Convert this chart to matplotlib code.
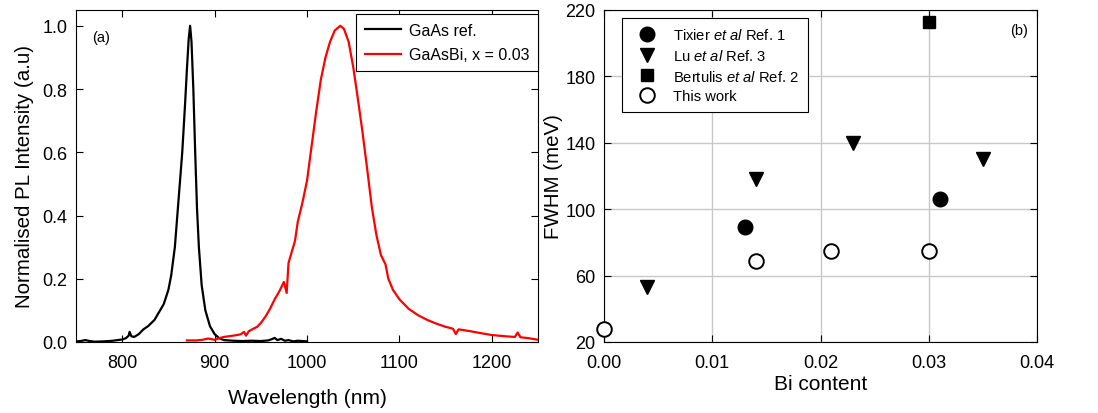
import matplotlib
matplotlib.use('Agg')
import matplotlib.pyplot as plt

plt.rcParams['font.family'] = ['Liberation Sans', 'DejaVu Sans']
plt.rcParams['mathtext.fontset'] = 'custom'
plt.rcParams['mathtext.rm'] = 'Liberation Sans'
plt.rcParams['mathtext.it'] = 'Liberation Sans:italic'

# Espectro de referencia GaAs
gaas_nm = [750, 755, 760, 765, 770, 780, 790, 800, 804, 807, 808, 810, 813,
           818, 823, 828, 835, 840, 845, 850, 853, 857, 861, 865, 868, 870,
           872, 873.5, 875, 877, 879, 881, 883, 886, 890, 895, 900, 905, 910,
           920, 930, 940, 950, 958, 962, 965, 968, 972, 976, 980, 985, 990,
           1000]
gaas_pl = [0.002, 0.003, 0.006, 0.003, 0.001, 0.002, 0.004, 0.008, 0.012, 0.02,
           0.032, 0.018, 0.016, 0.025, 0.04, 0.05, 0.07, 0.095, 0.12, 0.165,
           0.21, 0.3, 0.45, 0.6, 0.75, 0.86, 0.96, 1.0, 0.95, 0.8, 0.6, 0.42,
           0.3, 0.18, 0.1, 0.05, 0.025, 0.012, 0.006, 0.004, 0.003, 0.004,
           0.003, 0.005, 0.009, 0.013, 0.006, 0.01, 0.004, 0.006, 0.002,
           0.004, 0.002]

# Espectro GaAsBi, x = 0.03
bi_nm = [870, 880, 887, 893, 900, 905, 910, 915, 920, 928, 932, 934, 937, 942,
         946, 950, 955, 960, 965, 970, 975, 978, 980, 983, 987, 990, 995, 1000,
         1005, 1010, 1015, 1020, 1025, 1030, 1036, 1040, 1045, 1050, 1055,
         1060, 1065, 1070, 1075, 1080, 1085, 1088, 1093, 1100, 1110, 1120,
         1130, 1140, 1150, 1158, 1161, 1164, 1175, 1190, 1200, 1215, 1225,
         1228, 1231, 1240, 1250]
bi_pl = [0.005, 0.005, 0.007, 0.011, 0.007, 0.012, 0.016, 0.018, 0.02, 0.024,
         0.032, 0.02, 0.034, 0.042, 0.048, 0.06, 0.08, 0.105, 0.135, 0.16,
         0.19, 0.155, 0.25, 0.28, 0.32, 0.38, 0.44, 0.51, 0.62, 0.73, 0.83,
         0.9, 0.95, 0.985, 1.0, 0.99, 0.95, 0.87, 0.77, 0.665, 0.55, 0.43,
         0.34, 0.275, 0.245, 0.2, 0.165, 0.135, 0.105, 0.085, 0.07, 0.058,
         0.048, 0.042, 0.025, 0.04, 0.035, 0.027, 0.022, 0.018, 0.016, 0.03,
         0.015, 0.012, 0.007]

# Datos FWHM vs contenido de Bi
tixier_x = [0.013, 0.031]
tixier_y = [89, 106]
lu_x = [0.004, 0.014, 0.023, 0.035]
lu_y = [53, 118, 140, 130]
bertulis_x = [0.030]
bertulis_y = [213]
this_x = [0.000, 0.014, 0.021, 0.030]
this_y = [28, 69, 75, 75]

fig = plt.figure(figsize=(10.98, 4.14), dpi=100)
ax1 = fig.add_axes([0.0692, 0.1715, 0.4208, 0.802])
ax2 = fig.add_axes([0.5501, 0.1715, 0.3944, 0.802])

# Panel (a)
ax1.plot(gaas_nm, gaas_pl, color='black', lw=1.6, label='GaAs ref.')
ax1.plot(bi_nm, bi_pl, color='red', lw=1.6, label='GaAsBi, x = 0.03')
ax1.set_xlim(750, 1250)
ax1.set_ylim(0, 1.05)
ax1.set_xticks([800, 900, 1000, 1100, 1200])
ax1.set_yticks([0.0, 0.2, 0.4, 0.6, 0.8, 1.0])
ax1.set_xlabel('Wavelength (nm)', fontsize=15, labelpad=12)
ax1.set_ylabel('Normalised PL Intensity (a.u)', fontsize=14.8, labelpad=6)
ax1.text(0.035, 0.919, '(a)', transform=ax1.transAxes, fontsize=10.5,
         va='center')
leg1 = ax1.legend(loc='upper right', bbox_to_anchor=(1.0, 0.988),
                  borderaxespad=0, fontsize=11.5, fancybox=False,
                  edgecolor='black', framealpha=1, handlelength=2.25,
                  handletextpad=0.5, borderpad=0.55, labelspacing=0.6)
leg1.get_frame().set_linewidth(0.8)

# Panel (b)
ax2.plot(tixier_x, tixier_y, 'o', color='black', ms=10.5, ls='none',
         label='Tixier $\\mathit{et\\ al}$ Ref. 1')
ax2.plot(lu_x, lu_y, 'v', color='black', ms=10.5, ls='none',
         label='Lu $\\mathit{et\\ al}$ Ref. 3')
ax2.plot(bertulis_x, bertulis_y, 's', color='black', ms=9, ls='none',
         label='Bertulis $\\mathit{et\\ al}$ Ref. 2')
ax2.plot(this_x, this_y, 'o', mfc='white', mec='black', mew=1.4, ms=10.5,
         ls='none', label='This work', clip_on=False, zorder=5)
ax2.set_xlim(0, 0.04)
ax2.set_ylim(20, 220)
ax2.set_xticks([0.00, 0.01, 0.02, 0.03, 0.04])
ax2.set_xticklabels(['0.00', '0.01', '0.02', '0.03', '0.04'])
ax2.set_yticks([20, 60, 100, 140, 180, 220])
ax2.grid(True, color='#c8c8c8', lw=1)
ax2.set_axisbelow(True)
ax2.set_xlabel('Bi content', fontsize=15, labelpad=2)
ax2.set_ylabel('FWHM (meV)', fontsize=14.8, labelpad=1.5)
ax2.text(0.958, 0.94, '(b)', transform=ax2.transAxes, fontsize=10.5,
         ha='center', va='center')
leg2 = ax2.legend(loc='upper left', bbox_to_anchor=(0.0416, 0.976),
                  borderaxespad=0, fontsize=10.6, fancybox=False,
                  edgecolor='black', framealpha=1, handlelength=2.2,
                  handletextpad=0.65, borderpad=0.6, labelspacing=0.4)
leg2.get_frame().set_linewidth(0.8)

for ax in (ax1, ax2):
    ax.tick_params(direction='in', top=True, right=True, labelsize=13,
                   length=5, width=0.8)
    ax.tick_params(axis='x', pad=9)
    ax.tick_params(axis='y', pad=6)
    for s in ax.spines.values():
        s.set_linewidth(0.8)

fig.savefig('out.png', dpi=100)
